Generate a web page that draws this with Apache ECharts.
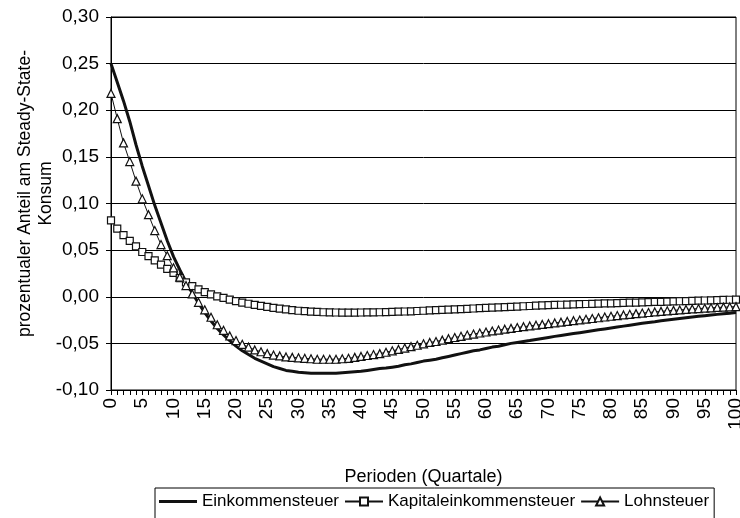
<!DOCTYPE html>
<html>
<head>
<meta charset="utf-8">
<script src="https://cdn.jsdelivr.net/npm/echarts@6/dist/echarts.min.js"></script>
<style>
html,body{margin:0;padding:0;background:#fff;}
#chart{width:740px;height:518px;}
</style>
</head>
<body>
<div id="chart"></div>
<script>
// Series names
var seriesNames = ['Einkommensteuer', 'Kapitaleinkommensteuer', 'Lohnsteuer'];

// Periods (Quartale) 0..100
var periods = [];
for (var p = 0; p <= 100; p++) periods.push(p);

// Einkommensteuer (solid thick line)
var einkommen = [
0.250,0.230,0.210,0.188,0.163,0.140,0.119,0.098,0.079,0.060,
0.043,0.029,0.016,0.004,-0.007,-0.017,-0.026,-0.034,-0.041,-0.047,
-0.053,-0.058,-0.062,-0.066,-0.069,-0.072,-0.075,-0.077,-0.079,-0.080,
-0.081,-0.0815,-0.082,-0.082,-0.082,-0.082,-0.082,-0.0815,-0.081,-0.0805,
-0.080,-0.079,-0.078,-0.077,-0.0765,-0.0755,-0.0745,-0.073,-0.072,-0.0705,
-0.069,-0.068,-0.067,-0.0655,-0.064,-0.0625,-0.061,-0.0595,-0.058,-0.057,
-0.0555,-0.054,-0.053,-0.0515,-0.050,-0.049,-0.048,-0.047,-0.0458,-0.0447,
-0.0436,-0.0425,-0.0415,-0.0405,-0.0395,-0.0385,-0.0375,-0.0365,-0.0355,-0.0345,
-0.0335,-0.0325,-0.0315,-0.0305,-0.0295,-0.0285,-0.0275,-0.0267,-0.0258,-0.025,
-0.0242,-0.0234,-0.0226,-0.0218,-0.021,-0.0203,-0.0196,-0.0189,-0.0182,-0.0176,
-0.017
];

// Kapitaleinkommensteuer (squares)
var kapital = [
0.082,0.073,0.066,0.060,0.054,0.048,0.0435,0.039,0.0345,0.030,
0.0255,0.020,0.0155,0.0115,0.008,0.005,0.0025,0.0005,-0.0012,-0.003,
-0.0047,-0.0062,-0.0075,-0.0087,-0.0098,-0.0109,-0.0119,-0.0128,-0.0136,-0.0143,
-0.015,-0.0155,-0.016,-0.0163,-0.0166,-0.0168,-0.0169,-0.017,-0.017,-0.017,
-0.0169,-0.0168,-0.0167,-0.0166,-0.0164,-0.0162,-0.016,-0.0158,-0.0156,-0.0153,
-0.015,-0.0147,-0.0144,-0.0141,-0.0138,-0.0135,-0.0132,-0.0129,-0.0126,-0.0123,
-0.012,-0.0117,-0.0114,-0.0111,-0.0108,-0.0105,-0.0102,-0.0099,-0.0096,-0.0093,
-0.009,-0.0088,-0.0086,-0.0084,-0.0082,-0.008,-0.0078,-0.0076,-0.0074,-0.0072,
-0.007,-0.0068,-0.0066,-0.0064,-0.0062,-0.006,-0.0058,-0.0056,-0.0054,-0.0052,
-0.005,-0.0048,-0.0046,-0.0044,-0.0042,-0.004,-0.0038,-0.0036,-0.0034,-0.0032,
-0.003
];

// Lohnsteuer (triangles)
var lohn = [
0.218,0.191,0.165,0.145,0.124,0.105,0.088,0.071,0.056,0.044,
0.031,0.021,0.012,0.003,-0.006,-0.014,-0.022,-0.030,-0.036,-0.042,
-0.047,-0.051,-0.054,-0.057,-0.059,-0.061,-0.0625,-0.0635,-0.0645,-0.065,
-0.0655,-0.066,-0.0665,-0.067,-0.067,-0.067,-0.067,-0.0665,-0.066,-0.065,
-0.064,-0.063,-0.062,-0.061,-0.0595,-0.058,-0.0565,-0.055,-0.0535,-0.052,
-0.0505,-0.049,-0.048,-0.0465,-0.045,-0.0437,-0.0424,-0.0411,-0.040,-0.0389,
-0.0378,-0.0367,-0.0357,-0.0348,-0.0339,-0.033,-0.0321,-0.0313,-0.0305,-0.0297,
-0.0289,-0.0281,-0.0273,-0.0265,-0.0257,-0.0249,-0.0241,-0.0233,-0.0225,-0.0217,
-0.0209,-0.0202,-0.0195,-0.0188,-0.0181,-0.0175,-0.0169,-0.0163,-0.0157,-0.0151,
-0.0146,-0.0141,-0.0136,-0.0131,-0.0127,-0.0123,-0.0119,-0.0115,-0.0112,-0.0109,
-0.0106
];

var yAxisTitle = 'prozentualer Anteil am Steady-State-\nKonsum';
var xAxisTitle = 'Perioden (Quartale)';

function pairs(arr) {
  return arr.map(function (v, i) { return [periods[i], v]; });
}

var FONT = '"Liberation Sans", Arial, sans-serif';
var chart = echarts.init(document.getElementById('chart'), null, {renderer: 'canvas'});

chart.setOption({
  animation: false,
  backgroundColor: '#ffffff',
  textStyle: {fontFamily: FONT, color: '#000'},
  grid: {
    left: 111, right: 4, top: 17, bottom: 128,
    containLabel: false,
    outerBoundsMode: 'none',
    show: true, borderColor: '#000', borderWidth: 1, backgroundColor: 'transparent'
  },
  xAxis: {
    type: 'value',
    min: 0, max: 100, interval: 5,
    name: xAxisTitle,
    nameLocation: 'middle',
    nameGap: 78,
    nameMoveOverlap: false,
    nameTextStyle: {fontSize: 18, color: '#000', fontFamily: FONT},
    axisLine: {show: true, onZero: false, lineStyle: {color: '#000', width: 1}},
    axisTick: {show: true, inside: false, length: 5, lineStyle: {color: '#000'}},
    minorTick: {show: true, splitNumber: 5, length: 5, lineStyle: {color: '#000'}},
    splitLine: {show: false},
    axisLabel: {rotate: 90, fontSize: 19, color: '#000', margin: 8, fontFamily: FONT}
  },
  yAxis: {
    type: 'value',
    min: -0.1, max: 0.3, interval: 0.05,
    name: yAxisTitle,
    nameLocation: 'middle',
    nameGap: 54,
    nameMoveOverlap: false,
    nameTextStyle: {fontSize: 17.5, color: '#000', fontFamily: FONT, lineHeight: 21, align: 'center', padding: [0, 0, 0, 20]},
    axisLine: {show: true, lineStyle: {color: '#000', width: 1}},
    axisTick: {show: true, inside: false, length: 5, lineStyle: {color: '#000'}},
    splitLine: {show: true, lineStyle: {color: '#000', width: 1}},
    axisLabel: {
      fontSize: 19, color: '#000', margin: 12, fontFamily: FONT,
      formatter: function (v) { return v.toFixed(2).replace('.', ','); }
    }
  },
  legend: {
    data: [
      {name: seriesNames[0], icon: 'path://M0,0L40,0L40,3L0,3Z', itemStyle: {color: '#111', borderWidth: 0}},
      {name: seriesNames[1]},
      {name: seriesNames[2]}
    ],
    left: 155, top: 488,
    itemWidth: 38, itemHeight: 10, itemGap: 5,
    padding: [5, 5, 20, 4],
    borderColor: '#000', borderWidth: 1,
    backgroundColor: '#fff',
    textStyle: {fontSize: 17, color: '#000', fontFamily: FONT}
  },
  series: [
    {
      name: seriesNames[0],
      type: 'line',
      data: pairs(einkommen),
      symbol: 'none',
      lineStyle: {color: '#111', width: 3},
      itemStyle: {color: '#111'},
      z: 2
    },
    {
      name: seriesNames[1],
      type: 'line',
      data: pairs(kapital),
      symbol: 'rect',
      symbolSize: 7,
      showAllSymbol: true,
      lineStyle: {color: '#111', width: 1},
      itemStyle: {color: '#fff', borderColor: '#111', borderWidth: 1.2},
      z: 3
    },
    {
      name: seriesNames[2],
      type: 'line',
      data: pairs(lohn),
      symbol: 'triangle',
      symbolSize: 8,
      showAllSymbol: true,
      lineStyle: {color: '#111', width: 1},
      itemStyle: {color: '#fff', borderColor: '#111', borderWidth: 1.2},
      z: 4
    }
  ]
});
</script>
</body>
</html>
